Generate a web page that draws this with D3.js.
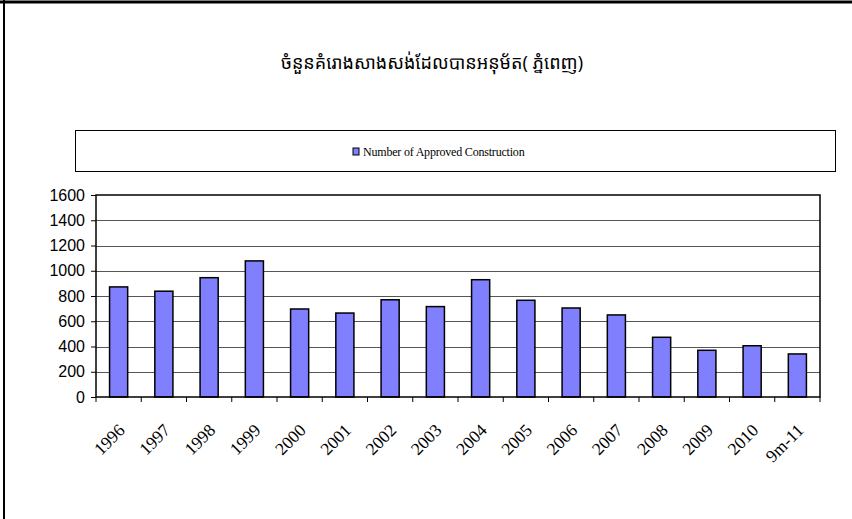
<!DOCTYPE html>
<html>
<head>
<meta charset="utf-8">
<script src="https://cdn.jsdelivr.net/npm/d3@7"></script>
<style>
  body { margin: 0; background: #fff; }
  svg { display: block; }
</style>
</head>
<body>
<svg id="chart" width="852" height="519"></svg>
<script>
var years = ["1996", "1997", "1998", "1999", "2000", "2001", "2002", "2003",
             "2004", "2005", "2006", "2007", "2008", "2009", "2010", "9m-11"];
var approved = [872, 838, 945, 1078, 697, 665, 770, 716, 929, 766, 705, 650, 473, 370, 406, 341];
var yTicks = [0, 200, 400, 600, 800, 1000, 1200, 1400, 1600];
var seriesName = "Number of Approved Construction";
var title = "ចំនួនគំរោងសាងសង់ដែលបានអនុម័ត( ភ្នំពេញ)";

var serif = "'Liberation Serif', 'DejaVu Serif', serif";
var svg = d3.select("#chart");

// outer frame (only top and left edges are visible)
svg.append("line").attr("x1", 0).attr("x2", 852).attr("y1", 2).attr("y2", 2)
    .attr("stroke", "#000").attr("stroke-width", 3);
svg.append("line").attr("x1", 4).attr("x2", 4).attr("y1", 0).attr("y2", 519)
    .attr("stroke", "#000").attr("stroke-width", 2);

svg.append("text")
    .attr("x", 432).attr("y", 69)
    .attr("text-anchor", "middle")
    .style("font-family", "'Khmer OS', 'Noto Sans Khmer', 'Noto Sans', 'DejaVu Sans', sans-serif")
    .style("font-size", "18px")
    .text(title);

// legend
svg.append("rect").attr("x", 75.5).attr("y", 130.5).attr("width", 760).attr("height", 41)
    .attr("fill", "#fff").attr("stroke", "#000").attr("stroke-width", 1);
var lg = svg.append("g").attr("transform", "translate(353,152)");
lg.append("rect").attr("x", 0).attr("y", -4).attr("width", 6).attr("height", 7)
    .attr("fill", "#8080ff").attr("stroke", "#000").attr("stroke-width", 1);
lg.append("text").attr("x", 10).attr("y", 4)
    .style("font-family", serif)
    .style("font-size", "12px")
    .style("letter-spacing", "-0.2px")
    .text(seriesName);

var margin = { left: 96, right: 820, top: 195, bottom: 397 };

var x = d3.scaleBand().domain(years).range([margin.left, margin.right]).paddingInner(0.6).paddingOuter(0.3);
var xEdge = d3.scaleLinear().domain([0, years.length]).range([margin.left, margin.right]);
var y = d3.scaleLinear().domain([0, 1600]).range([margin.bottom, margin.top]);

// gridlines
svg.append("g").selectAll("line").data(yTicks.slice(1, -1)).enter().append("line")
    .attr("x1", margin.left).attr("x2", margin.right)
    .attr("y1", function (d) { return Math.round(y(d)) + 0.5; })
    .attr("y2", function (d) { return Math.round(y(d)) + 0.5; })
    .attr("stroke", "#555").attr("stroke-width", 1);

// bars
svg.append("g").selectAll("rect").data(approved).enter().append("rect")
    .attr("x", function (d, i) { return x(years[i]); })
    .attr("width", x.bandwidth())
    .attr("y", function (d) { return y(d); })
    .attr("height", function (d) { return y(0) - y(d); })
    .attr("fill", "#8080ff").attr("stroke", "#000").attr("stroke-width", 1.5);

// plot border
svg.append("rect").attr("x", margin.left).attr("y", margin.top)
    .attr("width", margin.right - margin.left).attr("height", margin.bottom - margin.top)
    .attr("fill", "none").attr("stroke", "#000").attr("stroke-width", 1.5);

// y axis
var yAxis = d3.axisLeft(y).tickValues(yTicks).tickSize(5).tickPadding(6).tickFormat(d3.format("d"));
var yg = svg.append("g").attr("transform", "translate(" + margin.left + ",0)").call(yAxis);
yg.select(".domain").remove();
yg.selectAll("text").style("font-family", "'Liberation Sans', Arial, sans-serif").style("font-size", "16px").attr("fill", "#000");

// x axis ticks at category edges
svg.append("g").selectAll("line").data(d3.range(years.length + 1)).enter().append("line")
    .attr("x1", function (d) { return xEdge(d); }).attr("x2", function (d) { return xEdge(d); })
    .attr("y1", margin.bottom).attr("y2", margin.bottom + 5)
    .attr("stroke", "#000").attr("stroke-width", 1);

svg.append("g").selectAll("text").data(years).enter().append("text")
    .attr("transform", function (d) {
        return "translate(" + (x(d) + x.bandwidth() / 2 + 3) + "," + (margin.bottom + 30) + ") rotate(-45)";
    })
    .attr("text-anchor", "end")
    .attr("dy", "0.35em")
    .style("font-family", serif)
    .style("font-size", "17.5px")
    .text(function (d) { return d; });
</script>
</body>
</html>
